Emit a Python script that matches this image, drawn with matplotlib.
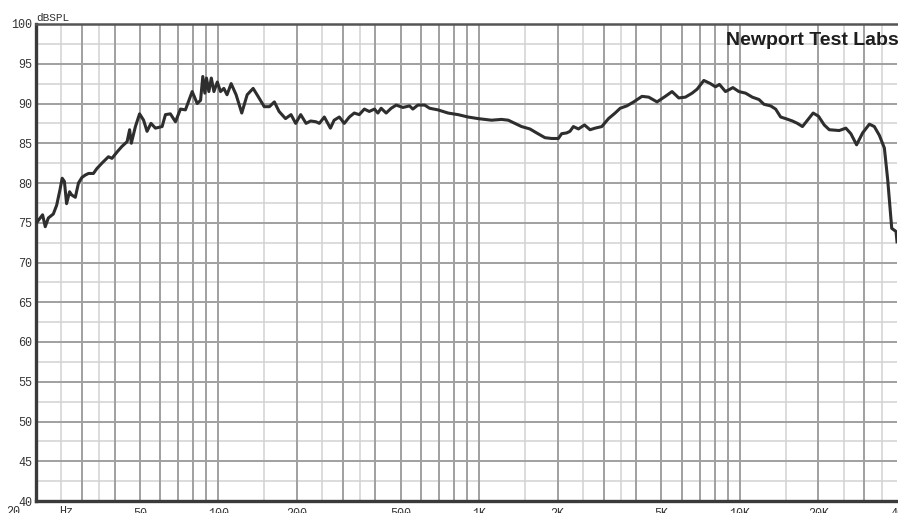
import numpy as np
import matplotlib
matplotlib.use('Agg')
import matplotlib.pyplot as plt

# Krzywa charakterystyki
freq_hz = [20.2, 21.2, 21.7, 22.3, 23.3, 24.0, 24.7, 25.2, 25.7, 26.2, 26.9, 27.4,
           28.3, 29.1, 30.0, 30.9, 31.8, 33.2, 34.2, 35.8, 37.9, 39.1, 40.9, 42.7,
           44.7, 45.7, 46.4, 48.1, 49.9, 51.7, 53.3, 55.2, 57.4, 60.9, 62.7, 65.5,
           68.5, 71.6, 74.8, 79.4, 83.0, 85.5, 87.2, 88.8, 90.1, 92.0, 94.0, 96.2,
           99.1, 102, 105, 108, 112, 117, 123, 129, 136, 142, 150, 157, 164, 171,
           181, 190, 198, 207, 217, 226, 237, 244, 255, 269, 278, 291, 304, 318,
           332, 347, 363, 379, 397, 409, 421, 440, 460, 481, 510, 541, 557, 582,
           618, 646, 695, 760, 830, 907, 991, 1115, 1218, 1293, 1370, 1454, 1565,
           1661, 1788, 1896, 2012, 2072, 2166, 2230, 2298, 2402, 2534, 2662, 2784,
           2953, 3133, 3322, 3473, 3685, 3912, 4211, 4468, 4809, 5174, 5490, 5825,
           6177, 6553, 6850, 7268, 7706, 8054, 8345, 8800, 9396, 9908, 10510, 11150,
           11830, 12360, 13110, 13700, 14320, 14970, 15890, 16610, 17360, 18150,
           19080, 20000, 21040, 22000, 24030, 25470, 26620, 28000, 29530, 31340,
           32740, 34230, 35780, 36850, 38180, 39660, 40000]
spl_db = [75.1, 76.0, 74.5, 75.6, 76.1, 77.2, 79.1, 80.6, 80.2, 77.4, 78.9, 78.5,
          78.2, 80.0, 80.7, 81.0, 81.2, 81.2, 81.8, 82.5, 83.3, 83.1, 83.9, 84.6,
          85.2, 86.7, 85.0, 87.1, 88.7, 87.9, 86.5, 87.5, 86.9, 87.1, 88.6, 88.7,
          87.7, 89.3, 89.2, 91.5, 90.0, 90.4, 93.4, 91.3, 93.2, 91.5, 93.2, 91.5,
          92.7, 91.5, 91.9, 91.1, 92.5, 91.1, 88.8, 91.1, 91.9, 90.9, 89.6, 89.6,
          90.2, 89.0, 88.1, 88.6, 87.5, 88.6, 87.5, 87.8, 87.7, 87.5, 88.3, 86.9,
          87.9, 88.3, 87.5, 88.3, 88.8, 88.6, 89.3, 89.0, 89.3, 88.8, 89.4, 88.8,
          89.4, 89.8, 89.5, 89.7, 89.3, 89.8, 89.8, 89.4, 89.2, 88.8, 88.6, 88.3,
          88.1, 87.9, 88.0, 87.9, 87.5, 87.1, 86.8, 86.3, 85.7, 85.6, 85.6, 86.2,
          86.3, 86.5, 87.1, 86.8, 87.3, 86.7, 86.9, 87.1, 88.1, 88.8, 89.4, 89.7,
          90.2, 90.9, 90.8, 90.2, 90.9, 91.5, 90.7, 90.8, 91.3, 91.8, 92.9, 92.5,
          92.1, 92.4, 91.5, 92.0, 91.5, 91.3, 90.8, 90.5, 89.9, 89.7, 89.3, 88.3,
          88.1, 87.8, 87.5, 87.1, 87.9, 88.8, 88.4, 87.3, 86.7, 86.6, 86.9, 86.2,
          84.8, 86.3, 87.4, 87.1, 86.0, 84.4, 80.4, 74.3, 73.9, 72.6]

# Opisy osi
y_ticks = [40, 45, 50, 55, 60, 65, 70, 75, 80, 85, 90, 95, 100]
x_ticks = [50, 100, 200, 500, 1000, 2000, 5000, 10000, 20000, 40000]
x_labels = ['50', '100', '200', '500', '1K', '2K', '5K', '10K', '20K', '40']

W, H = 898, 513
fig = plt.figure(figsize=(W / 100, H / 100), dpi=100)
ax = fig.add_axes([36 / W, 12 / H, 861 / W, 477 / H])

# siatka pionowa: 1..9 w każdej dekadzie ciemniej, połówki jaśniej
for dek in [10, 100, 1000, 10000]:
    for m in range(1, 10):
        f = m * dek
        if 20 < f < 40000:
            ax.axvline(f, color='#a0a0a0', linewidth=1.4, zorder=1)
    for m in [1.5, 2.5, 3.5]:
        f = m * dek
        if 20 < f < 40000:
            ax.axvline(f, color='#d2d2d2', linewidth=1.1, zorder=0)

# siatka pozioma: co 5 dB ciemniej, co 2.5 dB jaśniej
for v in np.arange(40, 100.1, 2.5):
    if v % 5 == 0:
        ax.axhline(v, color='#a0a0a0', linewidth=1.4, zorder=1)
    else:
        ax.axhline(v, color='#d2d2d2', linewidth=1.1, zorder=0)

ax.plot(freq_hz, spl_db, color='#2e2e2e', linewidth=2.2, zorder=3,
        solid_joinstyle='round')

ax.set_xscale('log')
ax.set_xlim(20, 40000)
ax.set_ylim(40, 100)
ax.minorticks_off()

ax.set_yticks(y_ticks)
ax.set_yticklabels([str(v) for v in y_ticks], family='Liberation Mono',
                   fontsize=8.5, color='#333333')
ax.set_xticks(x_ticks)
ax.set_xticklabels(x_labels, family='Liberation Mono', fontsize=8.5,
                   color='#333333')
ax.tick_params(axis='both', length=0)
ax.tick_params(axis='y', pad=2.5)
ax.tick_params(axis='x', pad=5)

for s in ['left', 'bottom']:
    ax.spines[s].set_linewidth(2.4)
    ax.spines[s].set_color('#3a3a3a')
ax.spines['top'].set_linewidth(1.8)
ax.spines['top'].set_color('#555555')
ax.spines['right'].set_visible(False)

fig.text(13 / W, 1 - 506 / H, '20', family='Liberation Mono', fontsize=8.5,
         color='#333333', ha='center', va='top')
fig.text(66 / W, 1 - 506 / H, 'Hz', family='Liberation Mono', fontsize=8.5,
         color='#333333', ha='center', va='top')
fig.text(36 / W, 1 - 21 / H, 'dBSPL', family='Liberation Mono', fontsize=8,
         color='#333333', ha='left', va='baseline')

fig.text(899 / W, 1 - 45 / H, 'Newport Test Labs', family='Liberation Sans',
         fontsize=14, fontweight='bold', color='#1e1e1e', ha='right',
         va='baseline')

fig.savefig('out.png', dpi=100)
plt.close(fig)
